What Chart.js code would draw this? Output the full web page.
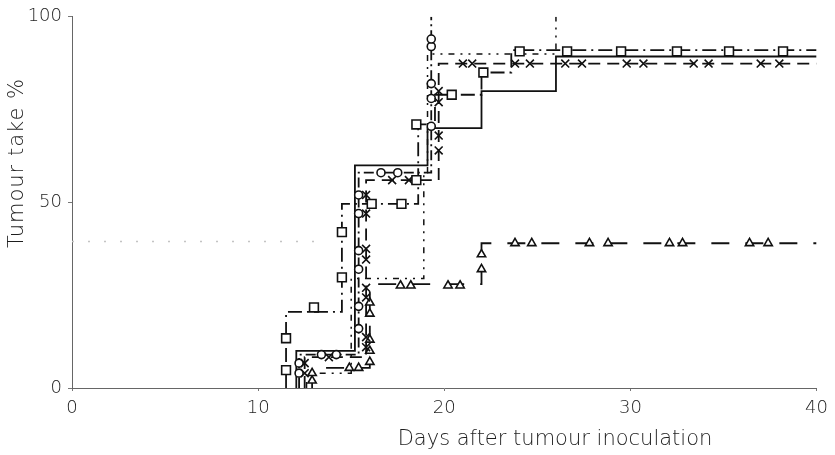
<!DOCTYPE html>
<html>
<head>
<meta charset="utf-8">
<title>Tumour take</title>
<script src="https://cdn.jsdelivr.net/npm/chart.js@4.4.1/dist/chart.umd.min.js"></script>
<style>
  html, body { margin: 0; padding: 0; background: #fff; }
  #wrap { width: 835px; height: 455px; position: relative; }
</style>
</head>
<body>
<div id="wrap"><canvas id="chart"></canvas></div>
<script>
// Cumulative tumour take (%) per group, as step points: [day the step happens, take after it]
const solidDays = [12.05, 12.05, 15.2, 19.1, 22.0, 26.0, 40];
const solidTake = [0, 10, 60, 70, 80, 89.3, 89.3];

const squareDays = [11.5, 11.5, 14.5, 18.6, 19.5, 22.0, 23.6, 40];
const squareTake = [0, 20.5, 49.6, 71, 79, 85, 91, 91];

const crossDays = [12.5, 12.5, 15.8, 19.7, 40];
const crossTake = [0, 8.3, 56, 87.4, 87.4];

const circleDays = [12.2, 12.2, 15.4, 19.3];
const circleTake = [0, 9, 58, 100];

const triangleDays = [12.9, 12.9, 16.0, 22.0, 40];
const triangleTake = [0, 5.4, 28, 39, 39];

const dashDotDays = [12.6, 12.6, 15.0, 18.9, 19.1, 26.0];
const dashDotTake = [0, 4, 29.5, 58, 90, 100];

// symbols printed along each curve
const squareMarkDays = [11.5, 11.5, 13.0, 14.5, 14.5, 16.1, 17.7, 18.5, 18.5, 20.4, 22.1, 24.05, 26.6, 29.5, 32.5, 35.3, 38.2];
const squareMarkTake = [4.8, 13.4, 21.7, 29.8, 42, 49.6, 49.6, 56, 71, 79, 85, 90.7, 90.7, 90.7, 90.7, 90.7, 90.7];

const crossMarkDays = [12.5, 12.5, 13.8, 15.8, 15.8, 15.8, 15.8, 15.8, 15.8, 15.8, 15.8, 17.2, 18.1, 19.7, 19.7, 19.7, 19.7, 21.0, 21.5, 23.8, 24.6, 26.5, 27.4, 29.8, 30.7, 33.4, 34.2, 37.0, 38.0];
const crossMarkTake = [4, 6.7, 8.3, 11, 13.7, 24.4, 27, 34.6, 37.5, 47, 52, 56, 56, 64, 68, 77, 80, 87.4, 87.4, 87.4, 87.4, 87.4, 87.4, 87.4, 87.4, 87.4, 87.4, 87.4, 87.4];

const circleMarkDays = [12.2, 12.2, 13.4, 14.2, 15.4, 15.4, 15.4, 15.4, 15.4, 15.4, 16.6, 17.5, 19.3, 19.3, 19.3, 19.3, 19.3];
const circleMarkTake = [4, 6.7, 9, 9, 16, 22, 32, 37, 47, 52, 58, 58, 70.5, 78, 82, 92, 94];

const triangleMarkDays = [12.9, 12.9, 14.9, 15.4, 16.0, 16.0, 16.0, 16.0, 16.0, 17.65, 18.2, 20.2, 20.85, 22.0, 22.0, 23.8, 24.7, 27.8, 28.8, 32.1, 32.8, 36.4, 37.4];
const triangleMarkTake = [2, 4, 5.4, 5.4, 7, 10, 13, 20, 23, 27.6, 27.6, 27.6, 27.6, 32, 36, 39, 39, 39, 39, 39, 39, 39, 39];

// faint dotted guide near the left
const guideDays = [0, 13.6];
const guideTake = [39.5, 39.5];

const xTicks = [0, 10, 20, 30, 40];
const yTicks = [0, 50, 100];
const xTitle = 'Days after tumour inoculation';
const yTitle = 'Tumour take %';

const ink = '#111';
const textInk = '#1e1e1e';
const tickFont = { family: "'DejaVu Sans'", size: 18, weight: 200 };

const zip = (xs, ys) => xs.map((x, i) => ({ x: x, y: ys[i] }));

function stepLine(days, take, dash, width) {
    return {
        data: zip(days, take),
        stepped: 'before',
        borderColor: ink,
        borderWidth: width || 1.8,
        borderDash: dash,
        pointRadius: 0,
        fill: false,
        order: 2
    };
}

function marks(days, take, style, radius) {
    return {
        data: zip(days, take),
        showLine: false,
        pointStyle: style,
        pointRadius: radius,
        pointBorderWidth: 1.6,
        pointBorderColor: ink,
        pointBackgroundColor: '#fff',
        order: 1
    };
}

// axis titles sit off-centre, so they are placed by hand
const axisTitles = {
    id: 'axisTitles',
    afterDraw(chart) {
        const ctx = chart.ctx;
        ctx.save();
        ctx.fillStyle = textInk;
        ctx.font = "200 21px 'DejaVu Sans'";
        ctx.textAlign = 'center';
        ctx.textBaseline = 'middle';
        ctx.fillText(xTitle, 555, 440);
        ctx.translate(18, 163);
        ctx.rotate(-Math.PI / 2);
        ctx.letterSpacing = '1px';
        ctx.fillText(yTitle, 0, 0);
        ctx.restore();
    }
};

new Chart(document.getElementById('chart'), {
    type: 'line',
    data: {
        datasets: [
            marks(squareMarkDays, squareMarkTake, 'rect', 6.2),
            marks(crossMarkDays, crossMarkTake, 'crossRot', 5.6),
            marks(circleMarkDays, circleMarkTake, 'circle', 4),
            marks(triangleMarkDays, triangleMarkTake, 'triangle', 4.8),
            stepLine(solidDays, solidTake, []),
            stepLine(squareDays, squareTake, [14, 5, 2, 5]),
            stepLine(crossDays, crossTake, [12, 7]),
            stepLine(circleDays, circleTake, [10, 4, 2, 4]),
            stepLine(triangleDays, triangleTake, [18, 16]),
            stepLine(dashDotDays, dashDotTake, [6, 6, 2, 6, 2, 6], 1.5),
            {
                data: zip(guideDays, guideTake),
                borderColor: '#c4c4c4',
                borderWidth: 1.5,
                borderDash: [2, 14],
                pointRadius: 0,
                order: 3
            }
        ]
    },
    options: {
        responsive: true,
        maintainAspectRatio: false,
        animation: false,
        events: [],
        layout: { padding: { top: 15, right: 13, left: 0, bottom: 0 } },
        plugins: {
            legend: { display: false },
            tooltip: { enabled: false }
        },
        scales: {
            x: {
                type: 'linear',
                min: 0,
                max: 40,
                afterFit: (scale) => { scale.height = 67; },
                afterBuildTicks: (scale) => { scale.ticks = xTicks.map(v => ({ value: v })); },
                grid: { drawOnChartArea: false, drawTicks: true, tickLength: 3, color: '#777' },
                border: { display: true, color: '#666', width: 1 },
                ticks: { font: tickFont, color: textInk, padding: 7, maxRotation: 0 }
            },
            y: {
                type: 'linear',
                min: 0,
                max: 100,
                afterFit: (scale) => { scale.width = 72; },
                afterBuildTicks: (scale) => { scale.ticks = yTicks.map(v => ({ value: v })); },
                grid: { drawOnChartArea: false, drawTicks: true, tickLength: 4, color: '#777' },
                border: { display: true, color: '#666', width: 1 },
                ticks: { font: tickFont, color: textInk, padding: 6 }
            }
        }
    },
    plugins: [axisTitles]
});
</script>
</body>
</html>
